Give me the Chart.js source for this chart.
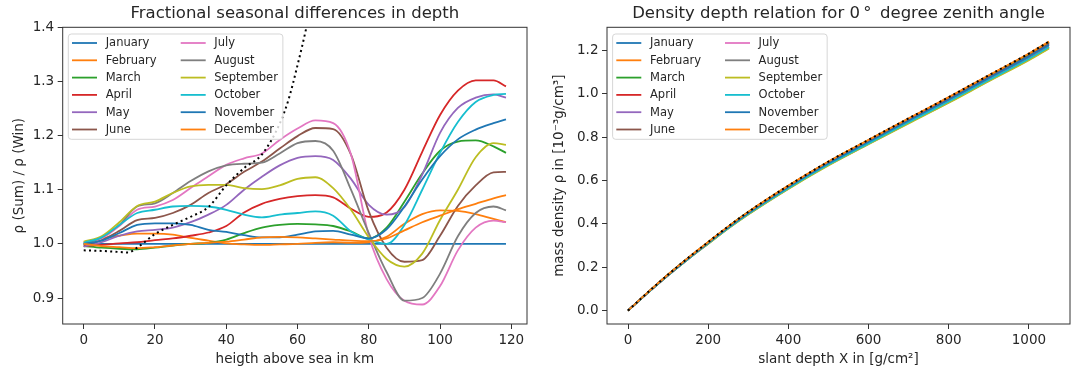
<!DOCTYPE html>
<html>
<head>
<meta charset="utf-8">
<script src="https://cdn.jsdelivr.net/npm/chart.js@4.4.0/dist/chart.umd.min.js"></script>
<style>
  body { margin: 0; background: #fff; width: 1073px; height: 374px; overflow: hidden; position: relative; }
  #left { position: absolute; left: 0; top: 0; }
  #right { position: absolute; left: 540px; top: 0; }
</style>
</head>
<body>
<canvas id="left" width="540" height="374"></canvas>
<canvas id="right" width="533" height="374"></canvas>
<script>
// ---- left panel: rho(month) / rho(Jan) vs height ----
const heightKm = [0, 5, 10, 15, 20, 25, 30, 35, 40, 45, 50, 55, 60, 65, 70, 75, 80, 85, 90, 95, 100, 105, 110, 115, 118.5];

const fracJan = [1, 1, 1, 1, 1, 1, 1, 1, 1, 1, 1, 1, 1, 1, 1, 1, 1, 1, 1, 1, 1, 1, 1, 1, 1];
const fracFeb = [1.003, 1.010, 1.015, 1.019, 1.019, 1.017, 1.011, 1.006, 1.001, 0.999, 0.998, 0.999, 1.000, 1.002, 1.003, 1.002, 1.003, 1.013, 1.037, 1.055, 1.062, 1.061, 1.055, 1.046, 1.040];
const fracMar = [0.996, 0.993, 0.991, 0.990, 0.993, 0.997, 1.000, 1.002, 1.008, 1.020, 1.030, 1.035, 1.037, 1.036, 1.033, 1.023, 1.010, 1.030, 1.078, 1.130, 1.172, 1.189, 1.191, 1.180, 1.168];
const fracApr = [0.996, 0.998, 1.001, 1.003, 1.007, 1.010, 1.015, 1.021, 1.033, 1.058, 1.074, 1.083, 1.088, 1.090, 1.086, 1.065, 1.050, 1.058, 1.100, 1.170, 1.238, 1.283, 1.302, 1.302, 1.291];
const fracMay = [0.995, 1.003, 1.015, 1.023, 1.026, 1.030, 1.040, 1.054, 1.072, 1.100, 1.124, 1.145, 1.159, 1.162, 1.155, 1.120, 1.072, 1.054, 1.068, 1.128, 1.205, 1.251, 1.270, 1.276, 1.270];
const fracJun = [0.998, 1.007, 1.024, 1.044, 1.048, 1.057, 1.072, 1.094, 1.110, 1.133, 1.152, 1.176, 1.199, 1.214, 1.212, 1.165, 1.060, 0.993, 0.967, 0.970, 1.015, 1.070, 1.108, 1.132, 1.133];
const fracJul = [1.002, 1.010, 1.033, 1.063, 1.069, 1.081, 1.103, 1.125, 1.146, 1.158, 1.167, 1.192, 1.213, 1.228, 1.223, 1.165, 1.015, 0.935, 0.895, 0.888, 0.922, 0.988, 1.030, 1.043, 1.040];
const fracAug = [1.000, 1.012, 1.035, 1.069, 1.075, 1.094, 1.116, 1.134, 1.145, 1.148, 1.150, 1.167, 1.186, 1.190, 1.172, 1.100, 1.020, 0.948, 0.895, 0.900, 0.945, 1.014, 1.057, 1.069, 1.062];
const fracSep = [1.004, 1.014, 1.040, 1.070, 1.078, 1.094, 1.106, 1.109, 1.109, 1.103, 1.101, 1.108, 1.120, 1.123, 1.103, 1.063, 1.012, 0.972, 0.958, 0.982, 1.044, 1.100, 1.160, 1.186, 1.183];
const fracOct = [1.002, 1.012, 1.035, 1.057, 1.063, 1.069, 1.070, 1.069, 1.063, 1.054, 1.049, 1.054, 1.057, 1.060, 1.052, 1.023, 1.008, 1.000, 1.035, 1.100, 1.168, 1.225, 1.262, 1.275, 1.277];
const fracNov = [1.000, 1.006, 1.020, 1.035, 1.038, 1.038, 1.035, 1.026, 1.022, 1.016, 1.012, 1.012, 1.017, 1.023, 1.024, 1.017, 1.010, 1.027, 1.069, 1.119, 1.162, 1.193, 1.211, 1.223, 1.230];
const fracDec = [1.000, 0.996, 0.994, 0.992, 0.994, 0.997, 1.000, 1.002, 1.004, 1.008, 1.012, 1.013, 1.012, 1.010, 1.008, 1.006, 1.005, 1.010, 1.025, 1.040, 1.052, 1.064, 1.074, 1.084, 1.090];

// dotted reference curve
const refHeightKm = [0, 5, 10, 12.5, 15, 20, 25, 30, 35, 40, 45, 50, 55, 57.5, 60, 62.5, 65];
const refFrac = [0.988, 0.987, 0.985, 0.984, 0.993, 1.018, 1.035, 1.050, 1.068, 1.108, 1.140, 1.165, 1.222, 1.267, 1.330, 1.400, 1.480];

// ---- right panel: density vs slant depth ----
const depthX = [0, 50, 100, 150, 200, 250, 300, 400, 500, 600, 700, 800, 900, 1000, 1050];
const rhoJan = [0, 0.084, 0.165, 0.242, 0.314, 0.386, 0.452, 0.573, 0.683, 0.782, 0.881, 0.978, 1.078, 1.178, 1.233];
const rhoFeb = [0, 0.085, 0.166, 0.243, 0.315, 0.387, 0.454, 0.575, 0.686, 0.785, 0.884, 0.982, 1.083, 1.183, 1.238];
const rhoMar = [0, 0.085, 0.166, 0.242, 0.315, 0.387, 0.454, 0.574, 0.685, 0.785, 0.883, 0.981, 1.082, 1.181, 1.236];
const rhoApr = [0, 0.084, 0.165, 0.241, 0.313, 0.385, 0.451, 0.571, 0.681, 0.780, 0.878, 0.975, 1.075, 1.174, 1.229];
const rhoMay = [0, 0.084, 0.164, 0.240, 0.312, 0.383, 0.449, 0.568, 0.677, 0.776, 0.874, 0.970, 1.070, 1.168, 1.223];
const rhoJun = [0, 0.083, 0.163, 0.238, 0.310, 0.381, 0.446, 0.565, 0.674, 0.772, 0.869, 0.965, 1.064, 1.162, 1.216];
const rhoJul = [0, 0.083, 0.162, 0.238, 0.309, 0.379, 0.445, 0.563, 0.672, 0.770, 0.867, 0.962, 1.061, 1.159, 1.213];
const rhoAug = [0, 0.083, 0.162, 0.237, 0.308, 0.379, 0.444, 0.562, 0.671, 0.768, 0.865, 0.960, 1.059, 1.157, 1.210];
const rhoSep = [0, 0.083, 0.162, 0.237, 0.308, 0.378, 0.443, 0.561, 0.669, 0.767, 0.863, 0.958, 1.057, 1.154, 1.208];
const rhoOct = [0, 0.083, 0.163, 0.238, 0.310, 0.380, 0.446, 0.564, 0.673, 0.771, 0.868, 0.964, 1.063, 1.161, 1.215];
const rhoNov = [0, 0.084, 0.164, 0.240, 0.313, 0.384, 0.450, 0.570, 0.679, 0.778, 0.876, 0.973, 1.073, 1.172, 1.226];
const rhoDec = [0, 0.085, 0.166, 0.243, 0.316, 0.388, 0.455, 0.576, 0.687, 0.787, 0.886, 0.984, 1.085, 1.185, 1.240];
const rhoRef = [0, 0.085, 0.166, 0.243, 0.316, 0.388, 0.455, 0.576, 0.687, 0.787, 0.886, 0.984, 1.085, 1.185, 1.240];

const months = ['January', 'February', 'March', 'April', 'May', 'June', 'July', 'August', 'September', 'October', 'November', 'December'];
const colors = ['#1f77b4', '#ff7f0e', '#2ca02c', '#d62728', '#9467bd', '#8c564b', '#e377c2', '#7f7f7f', '#bcbd22', '#17becf', '#1f77b4', '#ff7f0e'];
const fracs = [fracJan, fracFeb, fracMar, fracApr, fracMay, fracJun, fracJul, fracAug, fracSep, fracOct, fracNov, fracDec];
const rhos = [rhoJan, rhoFeb, rhoMar, rhoApr, rhoMay, rhoJun, rhoJul, rhoAug, rhoSep, rhoOct, rhoNov, rhoDec];

const FONT = '"DejaVu Sans", sans-serif';
const INK = '#262626';
const SPINE = '#333';

const toXY = (xs, ys) => xs.map((x, i) => ({ x: x, y: ys[i] }));

// Chart.js puts low "order" on top, so later months get lower order (like matplotlib)
function monthSets(xs, series) {
  return series.map((ys, i) => ({
    label: months[i],
    data: toXY(xs, ys),
    borderColor: colors[i],
    borderWidth: 1.8,
    pointRadius: 0,
    cubicInterpolationMode: 'monotone',
    fill: false,
    order: 20 - i
  }));
}

function dotted(xs, ys) {
  return {
    label: '',
    data: toXY(xs, ys),
    borderColor: '#000',
    borderWidth: 2,
    borderDash: [2, 3.3],
    pointRadius: 0,
    cubicInterpolationMode: 'monotone',
    fill: false,
    order: 0
  };
}

// axes title centred over the plot area (not the whole canvas)
function axesTitle(text) {
  return {
    id: 'axesTitle',
    afterDraw(chart) {
      const a = chart.chartArea, ctx = chart.ctx;
      ctx.save();
      ctx.font = '16.5px ' + FONT;
      ctx.fillStyle = INK;
      ctx.textAlign = 'center';
      ctx.textBaseline = 'middle';
      ctx.fillText(text, (a.left + a.right) / 2, 13.5);
      ctx.restore();
    }
  };
}

// box around the plot area, like matplotlib spines
const frame = {
  id: 'frame',
  afterDatasetsDraw(chart) {
    const a = chart.chartArea, ctx = chart.ctx;
    ctx.save();
    ctx.strokeStyle = SPINE;
    ctx.lineWidth = 1;
    ctx.strokeRect(a.left, a.top, a.right - a.left, a.bottom - a.top);
    ctx.restore();
  }
};

// two-column legend inside the axes, upper left
const boxLegend = {
  id: 'boxLegend',
  afterDraw(chart) {
    const a = chart.chartArea, ctx = chart.ctx;
    const items = chart.data.datasets.filter(d => d.label);
    ctx.save();
    ctx.font = '11.5px ' + FONT;
    const col2 = items.slice(6);
    const maxW = Math.max(...col2.map(d => ctx.measureText(d.label).width));
    const bx = a.left + 5.6, by = a.top + 6.7;
    const bw = 146 + maxW + 5, bh = 105.3;
    ctx.fillStyle = 'rgba(255,255,255,0.8)';
    ctx.strokeStyle = 'rgba(204,204,204,0.8)';
    ctx.lineWidth = 1;
    ctx.beginPath();
    ctx.roundRect(bx, by, bw, bh, 3);
    ctx.fill();
    ctx.stroke();
    ctx.textBaseline = 'middle';
    ctx.textAlign = 'left';
    items.forEach((d, i) => {
      const col = Math.floor(i / 6), row = i % 6;
      const y = a.top + 15.7 + row * 17.3;
      const hx = a.left + 9.3 + col * 108.7;
      ctx.strokeStyle = d.borderColor;
      ctx.lineWidth = 1.8;
      ctx.beginPath();
      ctx.moveTo(hx, y);
      ctx.lineTo(hx + 25, y);
      ctx.stroke();
      ctx.fillStyle = INK;
      ctx.fillText(d.label, a.left + 43 + col * 108.6, y + 0.5);
    });
    ctx.restore();
  }
};

function axisOpts(min, max, step, fmt, title, fit) {
  return {
    type: 'linear',
    min: min,
    max: max,
    afterFit: fit,
    border: { display: false },
    grid: { display: true, drawOnChartArea: false, drawTicks: true, tickLength: 5, color: SPINE, tickWidth: 1 },
    ticks: {
      stepSize: step, includeBounds: false, autoSkip: false, maxRotation: 0,
      color: INK, font: { family: FONT, size: 13.5 }, padding: 3.5,
      callback: fmt
    },
    title: { display: true, text: title, color: INK, font: { family: FONT, size: 13.5 } }
  };
}

function baseOptions(padRight) {
  return {
    responsive: false,
    animation: false,
    devicePixelRatio: 1,
    layout: { padding: { left: 0, right: padRight, top: 27.3, bottom: 0 } },
    plugins: {
      legend: { display: false },
      tooltip: { enabled: false },
      title: { display: false }
    }
  };
}

// left chart
const leftOpts = baseOptions(13);
leftOpts.scales = {
  x: axisOpts(-5.9, 124.4, 20, v => String(v), 'heigth above sea in km', s => { s.height = 50; }),
  y: axisOpts(0.852, 1.4, 0.1, v => v.toFixed(1), 'ρ (Sum) / ρ (Win)', s => { s.width = 62.7; })
};
leftOpts.scales.x.title.padding = { top: 0, bottom: 6.5 };
leftOpts.scales.y.title.padding = { top: 11, bottom: 0 };

new Chart(document.getElementById('left'), {
  type: 'line',
  data: { datasets: monthSets(heightKm, fracs).concat([dotted(refHeightKm, refFrac)]) },
  options: leftOpts,
  plugins: [frame, boxLegend, axesTitle('Fractional seasonal differences in depth')]
});

// right chart
const rightOpts = baseOptions(3);
rightOpts.scales = {
  x: axisOpts(-52.5, 1102.5, 200, v => String(v), 'slant depth X in [g/cm²]', s => { s.height = 50; }),
  y: axisOpts(-0.062, 1.306, 0.2, v => v.toFixed(1), 'mass density ρ in [10⁻³g/cm³]', s => { s.width = 67; })
};
rightOpts.scales.x.title.padding = { top: 0, bottom: 6.5 };
rightOpts.scales.y.title.padding = { top: 11.5, bottom: 0 };

new Chart(document.getElementById('right'), {
  type: 'line',
  data: { datasets: monthSets(depthX, rhos).concat([dotted(depthX, rhoRef)]) },
  options: rightOpts,
  plugins: [frame, boxLegend, axesTitle('Density depth relation for 0\u2009°\u2009 degree zenith angle')]
});
</script>
</body>
</html>
